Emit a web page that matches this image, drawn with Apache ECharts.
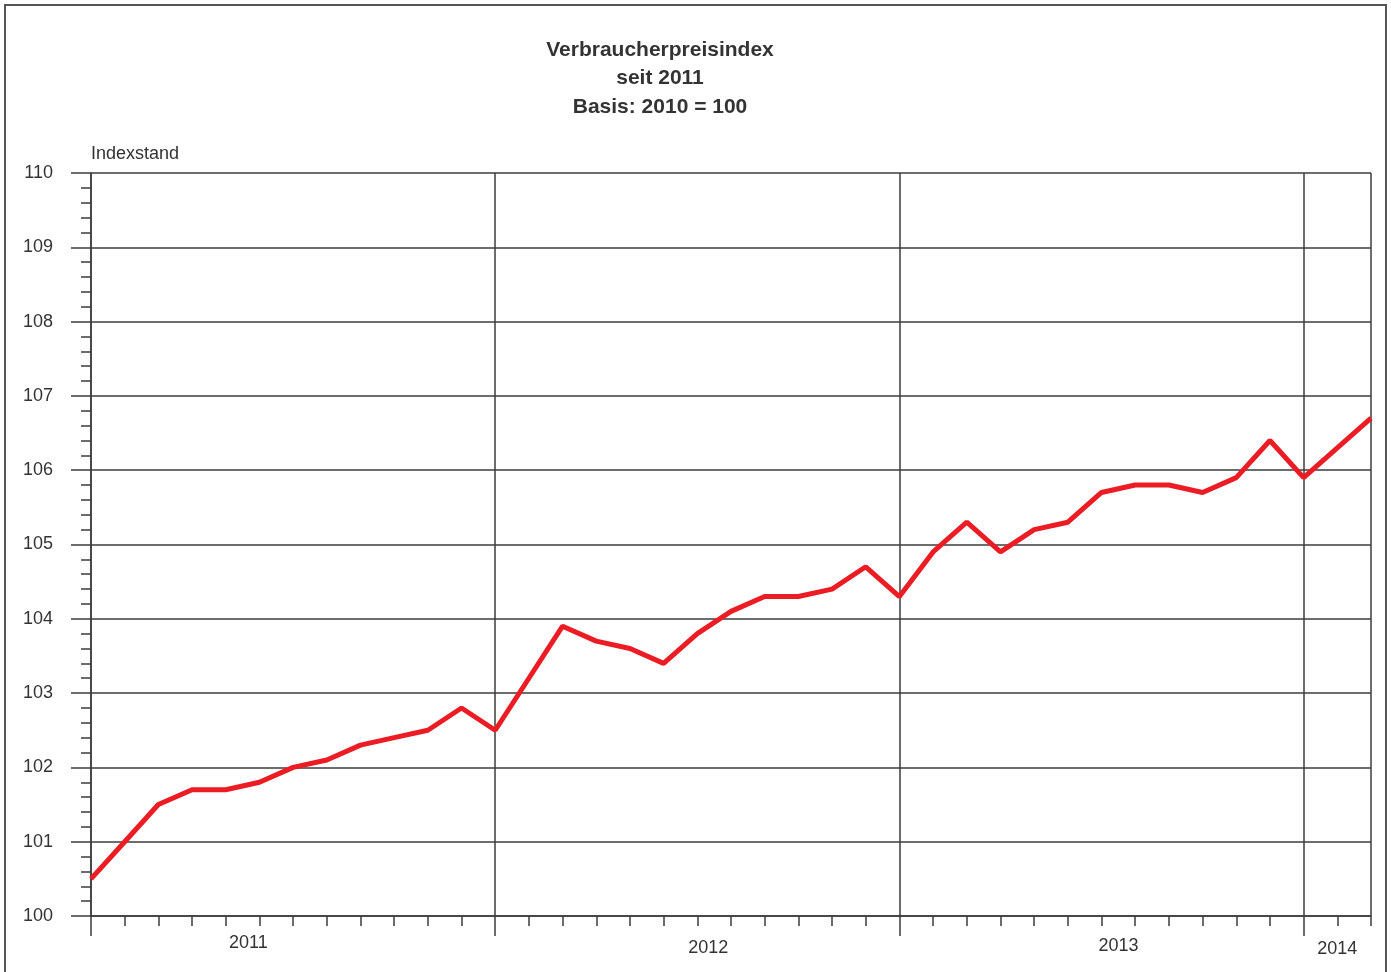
<!DOCTYPE html>
<html>
<head>
<meta charset="utf-8">
<script src="https://cdn.jsdelivr.net/npm/echarts@6/dist/echarts.min.js"></script>
<style>
html,body{margin:0;padding:0;background:#fff;}
#chart{width:1391px;height:972px;}
</style>
</head>
<body>
<div id="chart"></div>
<script>
const titleLines = ['Verbraucherpreisindex', 'seit 2011', 'Basis: 2010 = 100'];
const yAxisName = 'Indexstand';
const years = ['2011', '2012', '2013', '2014'];
const monthsPerYear = [12, 12, 12, 3];
const values2011 = [100.5, 101.0, 101.5, 101.7, 101.7, 101.8, 102.0, 102.1, 102.3, 102.4, 102.5, 102.8];
const values2012 = [102.5, 103.2, 103.9, 103.7, 103.6, 103.4, 103.8, 104.1, 104.3, 104.3, 104.4, 104.7];
const values2013 = [104.3, 104.9, 105.3, 104.9, 105.2, 105.3, 105.7, 105.8, 105.8, 105.7, 105.9, 106.4];
const values2014 = [105.9, 106.3, 106.7];
const yMin = 100, yMax = 110, yStep = 1;

const categories = [];
years.forEach((y, i) => {
  for (let m = 1; m <= monthsPerYear[i]; m++) categories.push(y + '-' + String(m).padStart(2, '0'));
});
const values = [].concat(values2011, values2012, values2013, values2014);

// label placement (which month carries each year label) and its style key
const yearLabelAt = {'2011-06': 'a', '2012-07': 'b', '2013-07': 'c', '2014-02': 'd'};

const axisColor = '#3d3d3d';
const textColor = '#333';
const font = 'Liberation Sans, Arial, sans-serif';

const chart = echarts.init(document.getElementById('chart'));
const lastIdx = categories.length - 1;

chart.setOption({
  backgroundColor: '#fff',
  animation: false,
  grid: {left: 91, right: 20, top: 173, bottom: 56, containLabel: false},
  graphic: [
    {type: 'rect', shape: {x: 5, y: 5, width: 1381, height: 1000}, style: {fill: 'none', stroke: '#555', lineWidth: 2}, silent: true},
    {type: 'text', x: 660, y: 50, style: {text: titleLines[0], textAlign: 'center', textVerticalAlign: 'middle', font: 'bold 21px ' + font, fill: textColor}},
    {type: 'text', x: 660, y: 78, style: {text: titleLines[1], textAlign: 'center', textVerticalAlign: 'middle', font: 'bold 21px ' + font, fill: textColor}},
    {type: 'text', x: 660, y: 107, style: {text: titleLines[2], textAlign: 'center', textVerticalAlign: 'middle', font: 'bold 21px ' + font, fill: textColor}}
  ],
  xAxis: [
    {
      type: 'category',
      data: categories,
      boundaryGap: false,
      axisLine: {show: true, lineStyle: {color: axisColor, width: 1.5}},
      axisTick: {show: true, interval: 0, length: 10, lineStyle: {color: axisColor, width: 1.5}},
      splitLine: {show: true, interval: (idx) => idx % 12 === 0 || idx === lastIdx, lineStyle: {color: axisColor, width: 1.5}},
      axisLabel: {
        show: true,
        interval: (idx, val) => yearLabelAt[val] !== undefined,
        margin: 18,
        fontFamily: font,
        fontSize: 18,
        color: textColor,
        formatter: (val) => '{' + yearLabelAt[val] + '|' + val.slice(0, 4) + '}',
        rich: {
          a: {fontFamily: font, fontSize: 18, color: textColor, padding: [0, 22, 0, 0]},
          b: {fontFamily: font, fontSize: 18, color: textColor, padding: [5, 0, 0, 22]},
          c: {fontFamily: font, fontSize: 18, color: textColor, padding: [3, 0, 0, 34]},
          d: {fontFamily: font, fontSize: 18, color: textColor, padding: [6, 0, 0, 0]}
        }
      }
    },
    {
      type: 'category',
      data: categories,
      boundaryGap: false,
      position: 'bottom',
      axisLine: {show: false},
      axisTick: {show: true, interval: (idx) => idx % 12 === 0, length: 20, lineStyle: {color: axisColor, width: 1.5}},
      axisLabel: {show: false},
      splitLine: {show: false}
    }
  ],
  yAxis: {
    type: 'value',
    min: yMin,
    max: yMax,
    interval: yStep,
    name: yAxisName,
    nameLocation: 'end',
    nameGap: 10,
    nameTextStyle: {align: 'left', fontFamily: font, fontSize: 18, color: textColor},
    axisLine: {show: true, lineStyle: {color: axisColor, width: 1.5}},
    axisTick: {show: true, length: 20, lineStyle: {color: axisColor, width: 1.5}},
    minorTick: {show: true, splitNumber: 5, length: 10, lineStyle: {color: axisColor, width: 1.5}},
    splitLine: {show: true, lineStyle: {color: axisColor, width: 1.5}},
    axisLabel: {margin: 38, fontFamily: font, fontSize: 18, color: textColor}
  },
  series: [{
    type: 'line',
    data: values,
    xAxisIndex: 0,
    symbol: 'none',
    lineStyle: {color: '#ec1c24', width: 5},
    z: 5
  }]
});
</script>
</body>
</html>
